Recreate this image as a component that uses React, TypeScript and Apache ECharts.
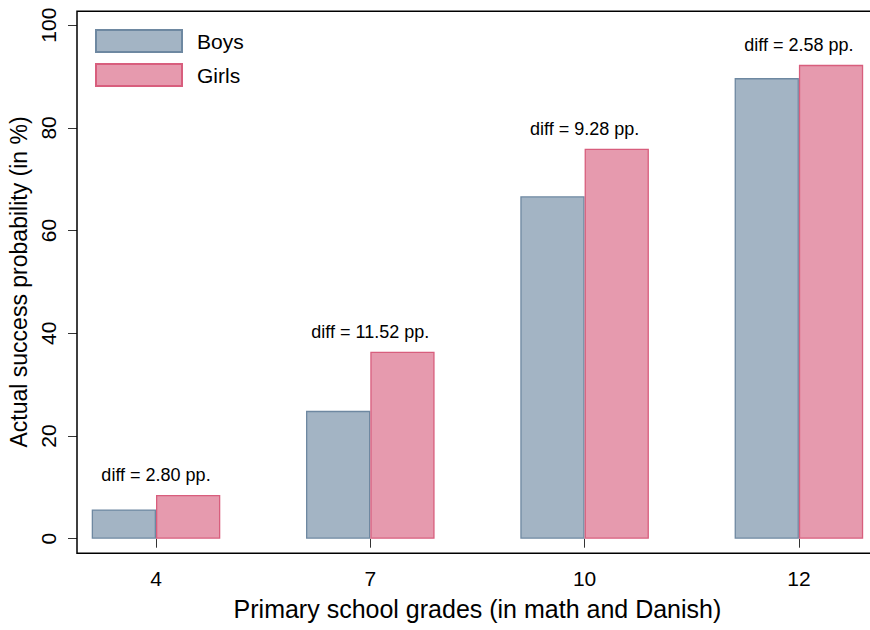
import React, { useEffect, useRef } from "react";
import * as echarts from "echarts";

const grades = ["4", "7", "10", "12"];
const boys = [5.7, 24.9, 66.68, 89.7];
const girls = [8.5, 36.42, 75.96, 92.28];
const diffLabels = ["2.80", "11.52", "9.28", "2.58"];
const yTicks = [0, 20, 40, 60, 80, 100];

const FONT = "'Liberation Sans', Arial, Helvetica, sans-serif";

export default function App() {
  const ref = useRef<HTMLDivElement>(null);
  useEffect(() => {
    if (!ref.current) return;
    const chart = echarts.init(ref.current, null, { renderer: "svg" });
    const option = {
      animation: false,
      textStyle: { fontFamily: FONT, color: "#000" },
      grid: {
        left: 48.85,
        width: 857.2,
        top: 25.2,
        height: 513.5,
        containLabel: false,
        outerBoundsMode: "none",
      },
      legend: {
        orient: "vertical",
        left: 90,
        top: 24,
        icon: "rect",
        itemWidth: 86,
        itemHeight: 22,
        itemGap: 10,
        textStyle: { fontSize: 21, color: "#000", fontFamily: FONT, padding: [0, 0, 0, 10] },
        data: ["Boys", "Girls"],
      },
      xAxis: {
        type: "category",
        data: grades,
        offset: 14.6,
        axisLine: { show: false },
        axisTick: { show: true, alignWithLabel: true, length: 9, lineStyle: { color: "#333", width: 1 } },
        axisLabel: { fontSize: 21, color: "#000", margin: 15, fontFamily: FONT },
        name: "Primary school grades (in math and Danish)",
        nameLocation: "middle",
        nameGap: 43,
        nameTextStyle: { fontSize: 25, color: "#000", fontFamily: FONT },
        splitLine: { show: false },
      },
      yAxis: {
        type: "value",
        min: yTicks[0],
        max: yTicks[yTicks.length - 1],
        interval: 20,
        offset: -28.15,
        axisLine: { show: false },
        axisTick: { show: true, length: 9, lineStyle: { color: "#333", width: 1 } },
        axisLabel: { fontSize: 21, color: "#000", rotate: 90, margin: 18, fontFamily: FONT },
        splitLine: { show: false },
        name: "Actual success probability (in %)",
        nameLocation: "middle",
        nameGap: 42,
        nameRotate: 90,
        nameTextStyle: { fontSize: 23, color: "#000", fontFamily: FONT },
      },
      graphic: [
        {
          type: "rect",
          silent: true,
          z: 10,
          shape: { x: 77, y: 11.3, width: 900, height: 542 },
          style: { fill: "none", stroke: "#000", lineWidth: 1.5 },
        },
      ],
      series: [
        {
          name: "Boys",
          type: "bar",
          data: boys,
          barGap: "0%",
          barCategoryGap: "40%",
          itemStyle: { color: "#A3B4C4", borderColor: "#6E88A1", borderWidth: 1.3 },
        },
        {
          name: "Girls",
          type: "bar",
          data: girls,
          barGap: "0%",
          barCategoryGap: "40%",
          itemStyle: { color: "#E69AAE", borderColor: "#D85E7D", borderWidth: 1.3 },
          label: {
            show: true,
            position: "top",
            distance: 11,
            offset: [-32.15, 0],
            fontSize: 18,
            color: "#000",
            fontFamily: FONT,
            formatter: (p: any) => `diff = ${diffLabels[p.dataIndex]} pp.`,
          },
        },
      ],
    };
    chart.setOption(option as any);
    return () => chart.dispose();
  }, []);
  return (
    <div
      ref={ref}
      style={{ position: "fixed", left: 0, top: 0, width: 870, height: 630, background: "#fff" }}
    />
  );
}
